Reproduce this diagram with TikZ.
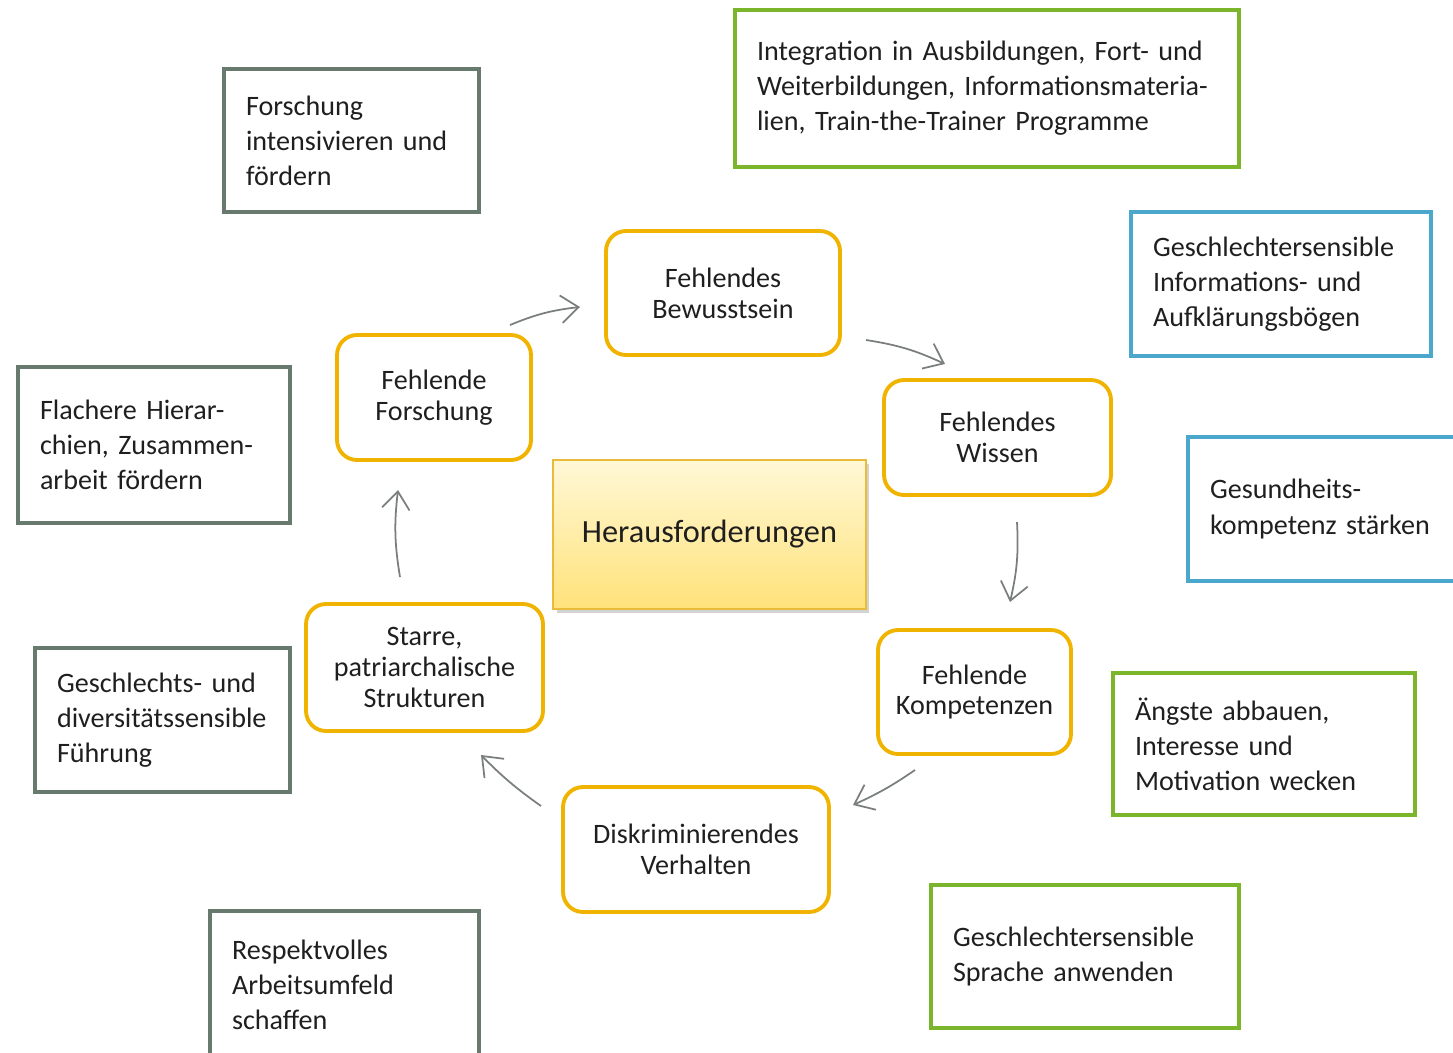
\documentclass[tikz,border=0pt]{standalone}
\usepackage{fontspec}
\setmainfont{Carlito}
\usetikzlibrary{arrows.meta,shadows}
\definecolor{rahmengrau}{HTML}{687A6E}
\definecolor{rahmengruen}{HTML}{7BB52B}
\definecolor{rahmenblau}{HTML}{4BA7CC}
\definecolor{gelbrand}{HTML}{F0B400}
\definecolor{zentrumrand}{HTML}{E8BC3A}
\definecolor{zentrumoben}{HTML}{FFF8D6}
\definecolor{zentrumunten}{HTML}{FFE27A}
\definecolor{pfeilgrau}{HTML}{7A7F7C}

\begin{document}
\begin{tikzpicture}[x=0.02cm, y=-0.02cm, text=black!88,
  massnahme/.style={draw, line width=2.6pt, rectangle, align=left, inner xsep=0.44cm,
    font=\fontsize{16}{20}\selectfont},
  problem/.style={draw=gelbrand, line width=2.2pt, rounded corners=0.4cm, align=center,
    font=\fontsize{16}{17.6}\selectfont},
  zentrum/.style={draw=zentrumrand, line width=0.8pt, top color=zentrumoben, bottom color=zentrumunten,
    drop shadow={shadow xshift=2pt, shadow yshift=-2pt, opacity=0.35},
    font=\fontsize{18.4}{22}\selectfont},
  pfeil/.style={draw=pfeilgrau, line width=1pt, -{Straight Barb[length=3.5mm, width=5.5mm]}}]
  \useasboundingbox (0,0) rectangle (1453,1052);
  \clip (0,0) rectangle (1453,1052);

  % Mitte
  \node[zentrum, minimum width=6.26cm, minimum height=2.98cm] (mitte) at (709.5,534.5) {Herausforderungen};

  % Herausforderungen im Kreis
  \node[problem, minimum width=4.68cm, minimum height=2.48cm] (bewusstsein) at (723,293) {Fehlendes\\Bewusstsein};
  \node[problem, minimum width=4.54cm, minimum height=2.3cm] (wissen) at (997.5,437.5) {Fehlendes\\Wissen};
  \node[problem, minimum width=3.86cm, minimum height=2.48cm] (kompetenzen) at (974.5,692) {Fehlende\\Kompetenzen};
  \node[problem, minimum width=5.32cm, minimum height=2.5cm] (verhalten) at (696,849.5) {Diskriminierendes\\Verhalten};
  \node[problem, minimum width=4.74cm, minimum height=2.54cm] (strukturen) at (424.5,667.5) {Starre,\\patriarchalische\\Strukturen};
  \node[problem, minimum width=3.88cm, minimum height=2.5cm] (forschung) at (434,397.5) {Fehlende\\Forschung};

  % Pfeile
  \coordinate (p1a) at (510,325);  \coordinate (p1b) at (580,307);
  \coordinate (p2a) at (866,340);  \coordinate (p2b) at (945,364);
  \coordinate (p3a) at (1017,522); \coordinate (p3b) at (1010,602);
  \coordinate (p4a) at (915,770);  \coordinate (p4b) at (853,805);
  \coordinate (p5a) at (541,806);  \coordinate (p5b) at (481,755);
  \coordinate (p6a) at (400,577);  \coordinate (p6b) at (398,490);
  \draw[pfeil] (p1a) to[bend left=8] (p1b);
  \draw[pfeil] (p2a) to[bend left=8] (p2b);
  \draw[pfeil] (p3a) to[bend left=8] (p3b);
  \draw[pfeil] (p4a) to[bend left=5] (p4b);
  \draw[pfeil] (p5a) to[bend left=5] (p5b);
  \draw[pfeil] (p6a) to[bend left=8] (p6b);

  % Massnahmen
  \node[massnahme, draw=rahmengrau, text width=4.22cm, minimum height=2.86cm] (foerdern) at (351.5,140.5)
    {Forschung\\intensivieren und\\fördern};
  \node[massnahme, draw=rahmengruen, text width=9.2cm, minimum height=3.14cm] (ausbildung) at (987,88.5)
    {Integration in Ausbildungen, Fort- und\\Weiterbildungen, Informationsmateria-\\lien, Train-the-Trainer Programme};
  \node[massnahme, draw=rahmenblau, text width=5.12cm, minimum height=2.88cm] (boegen) at (1281,284)
    {Geschlechtersensible\\Informations- und\\Aufklärungsbögen};
  \node[massnahme, draw=rahmenblau, text width=4.92cm, minimum height=2.88cm] (gesundheit) at (1333,509)
    {Gesundheits-\\kompetenz stärken};
  \node[massnahme, draw=rahmengrau, text width=4.56cm, minimum height=3.12cm] (hierarchien) at (154,445)
    {Flachere Hierar-\\chien, Zusammen-\\arbeit fördern};
  \node[massnahme, draw=rahmengrau, text width=4.22cm, minimum height=2.88cm] (fuehrung) at (162.5,720)
    {Geschlechts- und\\diversitätssensible\\Führung};
  \node[massnahme, draw=rahmengruen, text width=5.16cm, minimum height=2.84cm] (aengste) at (1264,744)
    {Ängste abbauen,\\Interesse und\\Motivation wecken};
  \node[massnahme, draw=rahmengruen, text width=5.28cm, minimum height=2.86cm] (sprache) at (1085,956.5)
    {Geschlechtersensible\\Sprache anwenden};
  \node[massnahme, draw=rahmengrau, text width=4.5cm, minimum height=2.96cm] (arbeitsumfeld) at (344.5,985)
    {Respektvolles\\Arbeitsumfeld\\schaffen};
\end{tikzpicture}
\end{document}
